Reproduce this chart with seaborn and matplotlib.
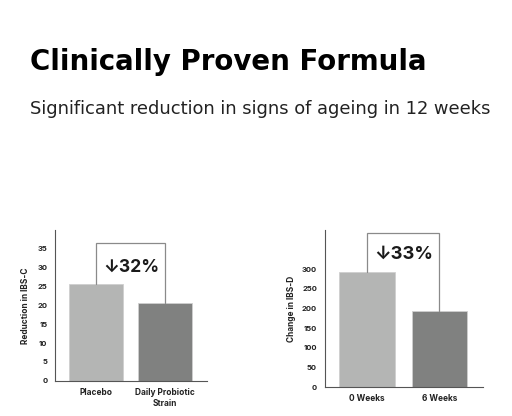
import matplotlib
matplotlib.use("Agg")
import matplotlib.pyplot as plt
import seaborn as sns
import pandas as pd

sns.set_style("white")
plt.rcParams['font.family'] = ['Inter', 'DejaVu Sans']

# Data
left_cats = ["Placebo", "Daily Probiotic\nStrain"]
left_vals = [25.7, 20.7]
left_ticks = [0, 5, 10, 15, 20, 25, 30, 35]
left_label = "Reduction in IBS-C"
left_pct = "↓32%"
left_bracket = 36.5

right_cats = ["0 Weeks", "6 Weeks"]
right_vals = [292, 193]
right_ticks = [0, 50, 100, 150, 200, 250, 300]
right_label = "Change in IBS-D"
right_pct = "↓33%"
right_bracket = 393

title = "Clinically Proven Formula"
subtitle = "Significant reduction in signs of ageing in 12 weeks"

colors = ["#b4b5b4", "#808180"]
axis_col = "#555555"
text_col = "#222222"

fig = plt.figure(figsize=(5.12, 4.16), dpi=100)
renderer = fig.canvas.get_renderer()

def fit_text(x, y, s, target_w, size, **kw):
    t = fig.text(x, y, s, fontsize=size, **kw)
    w = t.get_window_extent(renderer).width
    t.set_fontsize(size * target_w / w)
    return t

fit_text(30/512, 1 - 70/416, title, 398, 18, fontweight='bold',
         family=['DejaVu Sans'], color='black', va='baseline', ha='left')
fit_text(30/512, 1 - 114/416, subtitle, 458, 12, family=['DejaVu Sans'],
         color='#222222', va='baseline', ha='left')

def draw(ax, cats, vals, ticks, ylabel, pct, btop, ylim, xlim, width,
         pct_x, pct_y, pct_w, lpad):
    df = pd.DataFrame({"cat": cats, "val": vals})
    sns.barplot(data=df, x="cat", y="val", hue="cat",
                palette=dict(zip(cats, colors)), width=width,
                legend=False, ax=ax, edgecolor='#cfcfcf', linewidth=0.6)
    ax.set_ylim(*ylim)
    ax.set_xlim(*xlim)
    ax.set_yticks(ticks)
    ax.set_yticklabels([str(t) for t in ticks], fontsize=5.5,
                       fontweight='bold', color=text_col)
    ax.set_xticks(range(len(cats)))
    ax.set_xticklabels(cats, fontsize=6, fontweight='bold', color=text_col,
                       linespacing=1.35)
    ax.set_xlabel("")
    ax.set_ylabel(ylabel, fontsize=6, fontweight='bold', color=text_col,
                  labelpad=lpad)
    sns.despine(ax=ax)
    ax.spines['top'].set_visible(False)
    ax.spines['right'].set_visible(False)
    for s in ['left', 'bottom']:
        ax.spines[s].set_color(axis_col)
        ax.spines[s].set_linewidth(0.8)
    ax.tick_params(axis='y', direction='inout', length=5, width=0.7,
                   color=axis_col, pad=3)
    ax.tick_params(axis='x', length=0, pad=5)
    # bracket
    ax.plot([0, 0, 1, 1], [vals[0], btop, btop, vals[1]],
            color='#8a8a8a', linewidth=0.9, solid_joinstyle='miter',
            clip_on=False)
    t = ax.text(pct_x, pct_y, pct, ha='center', va='center', fontsize=16,
                fontweight='bold', color='#1a1a1a')
    w = t.get_window_extent(renderer).width
    t.set_fontsize(16 * pct_w / w)

ax1 = fig.add_axes([55/512, 1 - 380.7/416, 152/512, 150.7/416])
draw(ax1, left_cats, left_vals, left_ticks, left_label, left_pct,
     left_bracket, (0, 40), (-0.59, 1.61), 0.78, 0.52, 30.2, 56, 5)

ax2 = fig.add_axes([324.7/512, 1 - 387.3/416, 158/512, 157.3/416])
draw(ax2, right_cats, right_vals, right_ticks, right_label, right_pct,
     right_bracket, (0, 400), (-0.58, 1.595), 0.765, 0.5, 339, 59, 4)

fig.savefig("out.png", dpi=100)
